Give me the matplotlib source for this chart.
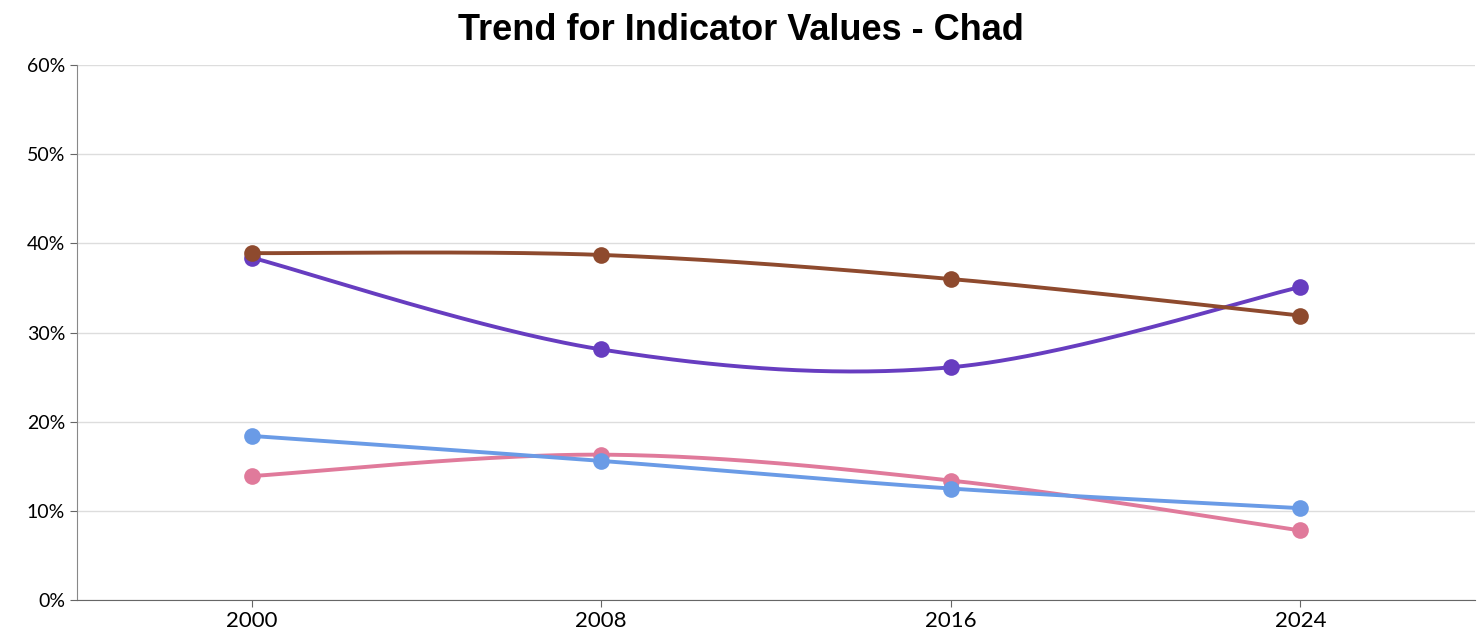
import numpy as np
import matplotlib.pyplot as plt

years = ["2000", "2008", "2016", "2024"]
brown = [38.9, 38.7, 36.0, 31.9]
purple = [38.4, 28.1, 26.1, 35.1]
blue = [18.4, 15.6, 12.5, 10.3]
pink = [13.9, 16.3, 13.4, 7.8]

series = [
    (pink, "#E07A9B"),
    (blue, "#6A9BE6"),
    (purple, "#673DC0"),
    (brown, "#8E4A2E"),
]


def cardinal(ys, n=60):
    # catmull-rom style smoothing through the points (ends duplicated)
    ys = np.asarray(ys, dtype=float)
    xs = np.arange(len(ys), dtype=float)
    px, py = [], []
    for i in range(len(ys) - 1):
        i0 = max(i - 1, 0)
        i3 = min(i + 2, len(ys) - 1)
        p0 = np.array([xs[i0], ys[i0]])
        p1 = np.array([xs[i], ys[i]])
        p2 = np.array([xs[i + 1], ys[i + 1]])
        p3 = np.array([xs[i3], ys[i3]])
        c1 = p1 + (p2 - p0) / 6
        c2 = p2 - (p3 - p1) / 6
        t = np.linspace(0, 1, n)[:, None]
        pts = ((1 - t) ** 3) * p1 + 3 * ((1 - t) ** 2) * t * c1 + 3 * (1 - t) * t ** 2 * c2 + t ** 3 * p2
        px.extend(pts[:, 0])
        py.extend(pts[:, 1])
    return np.array(px), np.array(py)


fig = plt.figure(figsize=(14.81, 6.32), dpi=100)
ax = fig.add_axes([77 / 1481, 32 / 632, 1398 / 1481, 535 / 632])

for vals, color in series:
    sx, sy = cardinal(vals)
    ax.plot(sx, sy, color=color, lw=2.8, solid_capstyle="round", zorder=3)
    ax.plot(range(len(vals)), vals, "o", color=color, ms=12, mec="none", zorder=4)

ax.set_xlim(-0.5, 3.5)
ax.set_ylim(0, 60)
ax.set_xticks(range(len(years)))
ax.set_xticklabels(years, fontsize=16, family="Lato")
ax.set_yticks(range(0, 61, 10))
ax.set_yticklabels([f"{v}%" for v in range(0, 61, 10)], fontsize=14, family="Lato")
ax.grid(axis="y", color="#dddddd", lw=1)
ax.set_axisbelow(True)
for s in ["top", "right"]:
    ax.spines[s].set_visible(False)
ax.spines["left"].set_color("#888888")
ax.spines["bottom"].set_color("#666666")
ax.tick_params(axis="both", colors="#666666", labelcolor="black", length=5)
ax.tick_params(axis="x", pad=3)

fig.text(0.5, 1 - 30 / 632, "Trend for Indicator Values - Chad", ha="center", va="center",
         fontsize=26, fontweight="bold", family="Liberation Sans")

fig.savefig("out.png", dpi=100)
